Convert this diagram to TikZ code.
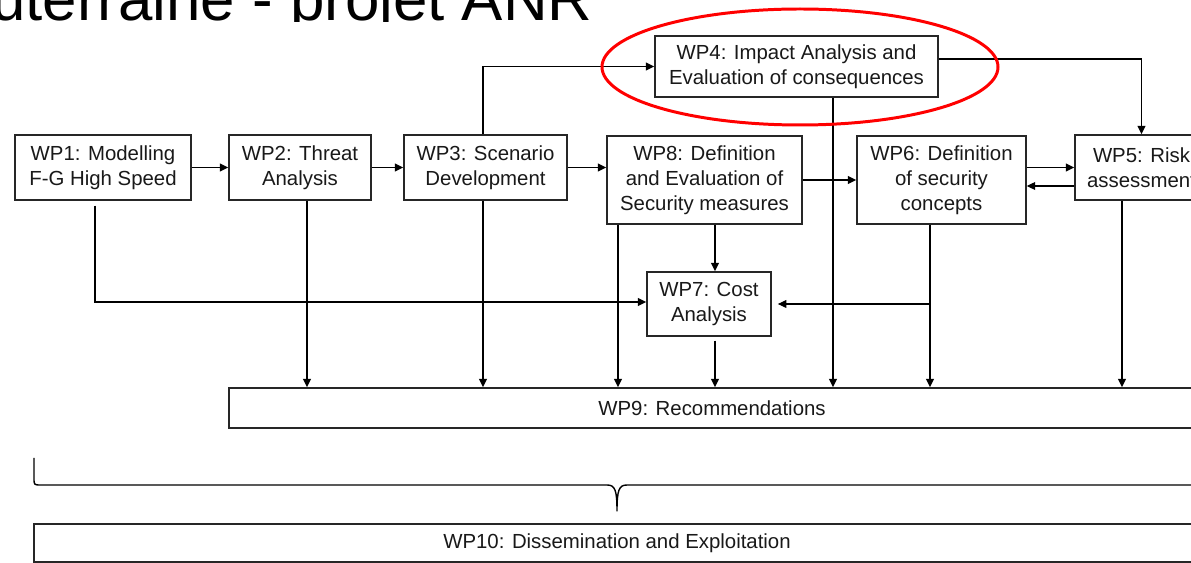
\documentclass[tikz,border=0pt]{standalone}
\usepackage{fontspec}
\setmainfont{Liberation Sans}
\usetikzlibrary{arrows.meta,shadows}

\begin{document}
\begin{tikzpicture}[x=0.02cm, y=-0.02cm,
	wp/.style={draw=black!85, line width=0.8pt, fill=white, align=center, inner sep=0pt,
		text=black!90, font=\fontsize{11.6}{14.2}\selectfont,
		drop shadow={shadow xshift=0.8pt, shadow yshift=-0.8pt, fill=black!40, opacity=0.6}},
	wpsize/.style 2 args={minimum width=#1*0.02cm, minimum height=#2*0.02cm},
	arr/.style={line width=1.1pt, -{Triangle[length=4.8pt,width=4.4pt]}}]
	\useasboundingbox (0,0) rectangle (1191,563);
	\clip (0,0) rectangle (1191,563);
	\fill[white] (0,0) rectangle (1191,563);

	% title, its lower part hidden behind the chart
	\begin{scope}
		\clip (0,0) rectangle (1191,22);
		\node[anchor=base east, inner sep=0pt, font=\fontsize{35.2}{40}\selectfont] (title) at (593,21) {Souterraine - projet ANR};
	\end{scope}

	\node[wp, wpsize={176}{65}] (wp1) at (103,167.5) {WP1: Modelling\\F-G High Speed};
	\node[wp, wpsize={142}{65}] (wp2) at (300,167.5) {WP2: Threat\\Analysis};
	\node[wp, wpsize={163}{65}] (wp3) at (485.5,167.5) {WP3: Scenario\\Development};
	\node[wp, wpsize={195}{88}] (wp8) at (704.5,180) {WP8: Definition\\and Evaluation of\\Security measures};
	\node[wp, wpsize={169}{88}] (wp6) at (941.5,180) {WP6: Definition\\of security\\concepts};
	\node[wp, wpsize={133}{65}] (wp5) at (1141.5,167.5) {WP5: Risk\\assessment};
	\node[wp, wpsize={283}{61}] (wp4) at (796.5,66.5) {WP4: Impact Analysis and\\Evaluation of consequences};
	\node[wp, wpsize={124}{64}] (wp7) at (709,304) {WP7: Cost\\Analysis};
	\node[wp, wpsize={966}{40}] (wp9) at (712,408) {WP9: Recommendations};
	\node[wp, wpsize={1166}{38}] (wp10) at (617,543) {WP10: Dissemination and Exploitation};

	% chain
	\draw[arr] (wp1) -- (wp2);
	\draw[arr] (wp2) -- (wp3);
	\draw[arr] (wp3.east) -- (wp3.east -| wp8.west);
	\draw[arr] (wp8) -- (wp6);
	\draw[arr] (wp6.east |- wp5) -- (wp5.west);
	\draw[arr, line width=0.6pt] (wp5.west |- 0,186) -- (wp6.east |- 0,186);
	\draw[arr] (wp3.north -| 483,0) |- (wp4.west);
	\draw[arr] (wp4.east |- 0,59) -| (wp5.north);

	% into WP7 and WP9
	\foreach \src/\x in {wp2/307, wp3/483, wp8/618, wp4/833, wp6/930, wp5/1122}
		\draw[arr] (\src.south -| \x,0) -- (wp9.north -| \x,0);
	\draw[arr] (wp8.south -| 715,0) -- (wp7.north -| 715,0);
	\draw[arr, shorten <=2.3pt] (wp7.south -| 715,0) -- (wp9.north -| 715,0);
	\draw[arr, shorten <=2.8pt] (wp1.south -| 95,0) |- (wp7.west |- 0,302);
	\draw[arr, line width=0.6pt, shorten >=3.5pt] (wp7.east -| 930,0) -- (wp7.east);

	% brace
	\draw[line width=0.8pt, line join=round] (34,458) -- (34,478) .. controls (34,485) .. (41,485)
		-- (607,485) .. controls (615,485) and (617,490) .. (617,511)
		.. controls (617,490) and (619,485) .. (627,485)
		-- (1193,485) .. controls (1200,485) .. (1200,478) -- (1200,458);

	\draw[red, line width=1.7pt] (800,67) ellipse [x radius=198, y radius=58];
\end{tikzpicture}
\end{document}
